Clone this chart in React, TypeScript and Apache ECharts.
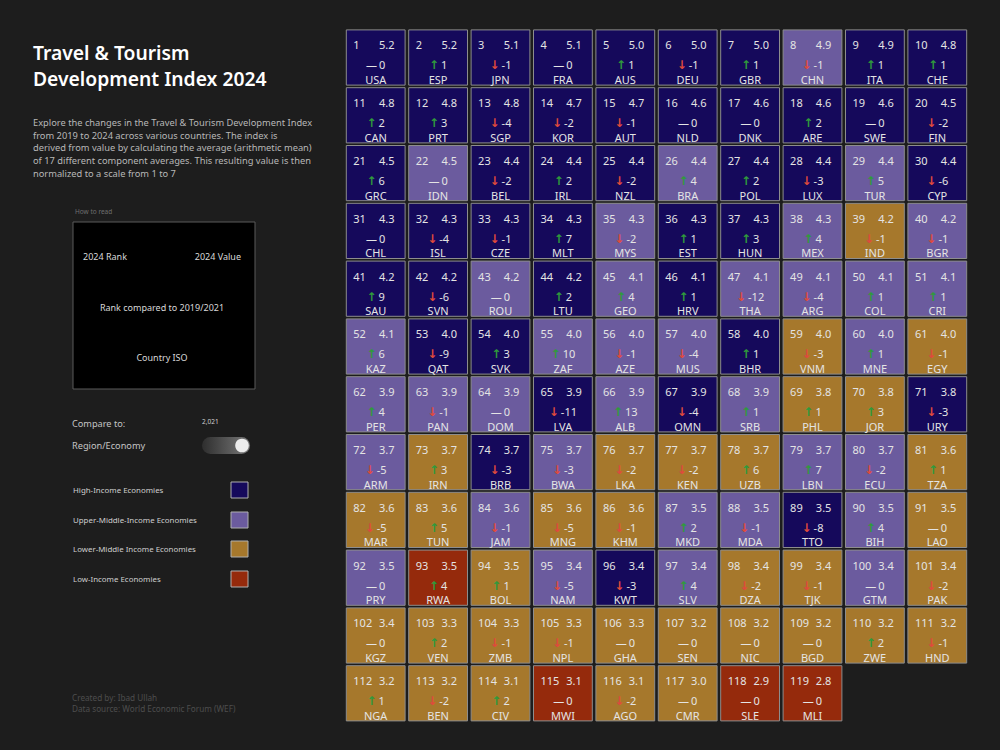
import React, { useEffect, useRef } from "react";
import * as echarts from "echarts";

// 2024 ranking, in grid order (10 tiles per row)
const ranks = [
  1, 2, 3, 4, 5, 6, 7, 8, 9, 10,
  11, 12, 13, 14, 15, 16, 17, 18, 19, 20,
  21, 22, 23, 24, 25, 26, 27, 28, 29, 30,
  31, 32, 33, 34, 35, 36, 37, 38, 39, 40,
  41, 42, 43, 44, 45, 46, 47, 49, 50, 51,
  52, 53, 54, 55, 56, 57, 58, 59, 60, 61,
  62, 63, 64, 65, 66, 67, 68, 69, 70, 71,
  72, 73, 74, 75, 76, 77, 78, 79, 80, 81,
  82, 83, 84, 85, 86, 87, 88, 89, 90, 91,
  92, 93, 94, 95, 96, 97, 98, 99, 100, 101,
  102, 103, 104, 105, 106, 107, 108, 109, 110, 111,
  112, 113, 114, 115, 116, 117, 118, 119,
];

const isoCodes = [
  "USA", "ESP", "JPN", "FRA", "AUS", "DEU", "GBR", "CHN", "ITA", "CHE",
  "CAN", "PRT", "SGP", "KOR", "AUT", "NLD", "DNK", "ARE", "SWE", "FIN",
  "GRC", "IDN", "BEL", "IRL", "NZL", "BRA", "POL", "LUX", "TUR", "CYP",
  "CHL", "ISL", "CZE", "MLT", "MYS", "EST", "HUN", "MEX", "IND", "BGR",
  "SAU", "SVN", "ROU", "LTU", "GEO", "HRV", "THA", "ARG", "COL", "CRI",
  "KAZ", "QAT", "SVK", "ZAF", "AZE", "MUS", "BHR", "VNM", "MNE", "EGY",
  "PER", "PAN", "DOM", "LVA", "ALB", "OMN", "SRB", "PHL", "JOR", "URY",
  "ARM", "IRN", "BRB", "BWA", "LKA", "KEN", "UZB", "LBN", "ECU", "TZA",
  "MAR", "TUN", "JAM", "MNG", "KHM", "MKD", "MDA", "TTO", "BIH", "LAO",
  "PRY", "RWA", "BOL", "NAM", "KWT", "SLV", "DZA", "TJK", "GTM", "PAK",
  "KGZ", "VEN", "ZMB", "NPL", "GHA", "SEN", "NIC", "BGD", "ZWE", "HND",
  "NGA", "BEN", "CIV", "MWI", "AGO", "CMR", "SLE", "MLI",
];

// 2024 index value (scale 1 to 7)
const indexValues = [
  5.2, 5.2, 5.1, 5.1, 5.0, 5.0, 5.0, 4.9, 4.9, 4.8,
  4.8, 4.8, 4.8, 4.7, 4.7, 4.6, 4.6, 4.6, 4.6, 4.5,
  4.5, 4.5, 4.4, 4.4, 4.4, 4.4, 4.4, 4.4, 4.4, 4.4,
  4.3, 4.3, 4.3, 4.3, 4.3, 4.3, 4.3, 4.3, 4.2, 4.2,
  4.2, 4.2, 4.2, 4.2, 4.1, 4.1, 4.1, 4.1, 4.1, 4.1,
  4.1, 4.0, 4.0, 4.0, 4.0, 4.0, 4.0, 4.0, 4.0, 4.0,
  3.9, 3.9, 3.9, 3.9, 3.9, 3.9, 3.9, 3.8, 3.8, 3.8,
  3.7, 3.7, 3.7, 3.7, 3.7, 3.7, 3.7, 3.7, 3.7, 3.6,
  3.6, 3.6, 3.6, 3.6, 3.6, 3.5, 3.5, 3.5, 3.5, 3.5,
  3.5, 3.5, 3.5, 3.4, 3.4, 3.4, 3.4, 3.4, 3.4, 3.4,
  3.4, 3.3, 3.3, 3.3, 3.3, 3.2, 3.2, 3.2, 3.2, 3.2,
  3.2, 3.2, 3.1, 3.1, 3.1, 3.0, 2.9, 2.8,
];

// Rank change compared to 2019/2021
const rankChanges = [
  0, 1, -1, 0, 1, -1, 1, -1, 1, 1,
  2, 3, -4, -2, -1, 0, 0, 2, 0, -2,
  6, 0, -2, 2, -2, 4, 2, -3, 5, -6,
  0, -4, -1, 7, -2, 1, 3, 4, -1, -1,
  9, -6, 0, 2, 4, 1, -12, -4, 1, 1,
  6, -9, 3, 10, -1, -4, 1, -3, 1, -1,
  4, -1, 0, -11, 13, -4, 1, 1, 3, -3,
  -5, 3, -3, -3, -2, -2, 6, 7, -2, 1,
  -5, 5, -1, -5, -1, 2, -1, -8, 4, 0,
  0, 4, 1, -5, -3, 4, -2, -1, 0, -2,
  0, 2, -1, -1, 0, 0, 0, 0, 2, -1,
  1, -2, 2, 0, -2, 0, 0, 0,
];

// Income group: H = high, U = upper-middle, L = lower-middle, W = low
const incomeGroups = [
  "H", "H", "H", "H", "H", "H", "H", "U", "H", "H",
  "H", "H", "H", "H", "H", "H", "H", "H", "H", "H",
  "H", "U", "H", "H", "H", "U", "H", "H", "U", "H",
  "H", "H", "H", "H", "U", "H", "H", "U", "L", "U",
  "H", "H", "U", "H", "U", "H", "U", "U", "U", "U",
  "U", "H", "H", "U", "U", "U", "H", "L", "U", "L",
  "U", "U", "U", "H", "U", "H", "U", "L", "L", "H",
  "U", "L", "H", "U", "L", "L", "L", "U", "U", "L",
  "L", "L", "U", "L", "L", "U", "U", "H", "U", "L",
  "U", "W", "L", "U", "H", "U", "L", "L", "U", "L",
  "L", "L", "L", "L", "L", "L", "L", "L", "L", "L",
  "L", "L", "L", "W", "L", "L", "W", "W",
];

const groupNames = [
  "High-Income Economies",
  "Upper-Middle-Income Economies",
  "Lower-Middle Income Economies",
  "Low-Income Economies",
];
const groupKeys = ["H", "U", "L", "W"];
const groupColors: Record<string, string> = {
  H: "#15095b",
  U: "#6b5b9e",
  L: "#a6782c",
  W: "#952a0c",
};

const COLS = 10;
const ROWS = 12;
const FONT = '"Noto Sans", "DejaVu Sans", sans-serif';

export default function App() {
  const ref = useRef<HTMLDivElement>(null);

  useEffect(() => {
    if (!ref.current) return;
    const chart = echarts.init(ref.current, null, { renderer: "svg" });

    const data = ranks.map((rank, i) => [
      i % COLS,
      Math.floor(i / COLS),
      rank,
      indexValues[i],
      rankChanges[i],
      isoCodes[i],
      incomeGroups[i],
    ]);

    const txt = "#e4e4e4";

    const renderItem = (params: any, api: any) => {
      const c = api.value(0);
      const r = api.value(1);
      const rank = api.value(2);
      const val = api.value(3);
      const chg = api.value(4);
      const iso = api.value(5);
      const grp = api.value(6);
      const center = api.coord([c, r]);
      const size = api.size([1, 1]);
      const w = size[0] - 3.6;
      const h = size[1] - 2.6;
      const x0 = center[0] - w / 2;
      const y0 = center[1] - h / 2;

      let chgText: string;
      if (chg > 0) chgText = `{up|↑}{n|${chg}}`;
      else if (chg < 0) chgText = `{dn|↓}{n|${chg}}`;
      else chgText = `{z|—}{n|0}`;

      return {
        type: "group",
        children: [
          {
            type: "rect",
            shape: { x: x0, y: y0, width: w, height: h },
            style: { fill: groupColors[grp], stroke: "#8d8d8d", lineWidth: 1 },
          },
          {
            type: "text",
            style: {
              x: x0 + 7,
              y: y0 + 15,
              text: String(rank),
              fill: txt,
              font: `11px ${FONT}`,
              align: "left",
              verticalAlign: "middle",
            },
          },
          {
            type: "text",
            style: {
              x: x0 + w - 10.5,
              y: y0 + 15,
              text: Number(val).toFixed(1),
              fill: txt,
              font: `11px ${FONT}`,
              align: "right",
              verticalAlign: "middle",
            },
          },
          {
            type: "text",
            style: {
              x: center[0],
              y: y0 + 35,
              text: chgText,
              align: "center",
              verticalAlign: "middle",
              rich: {
                up: { fill: "#2f9a3c", font: `bold 12px ${FONT}` },
                dn: { fill: "#df4a3c", font: `bold 12px ${FONT}` },
                z: { fill: txt, font: `11px ${FONT}` },
                n: { fill: txt, font: `11px ${FONT}`, padding: [0, 0, 0, 2] },
              },
            },
          },
          {
            type: "text",
            style: {
              x: center[0],
              y: y0 + 49.5,
              text: iso,
              fill: txt,
              font: `11px ${FONT}`,
              align: "center",
              verticalAlign: "middle",
            },
          },
        ],
      };
    };

    const legendItems: any[] = [];
    const legendY = [490, 520, 549, 579];
    groupKeys.forEach((k, i) => {
      legendItems.push({
        type: "text",
        style: {
          x: 73,
          y: legendY[i],
          text: groupNames[i],
          fill: "#cfcfcf",
          font: `7.9px ${FONT}`,
          align: "left",
          verticalAlign: "middle",
        },
      });
      legendItems.push({
        type: "rect",
        shape: { x: 231, y: legendY[i] - 8, width: 17, height: 16 },
        style: { fill: groupColors[k], stroke: "#b0b0b0", lineWidth: 1 },
      });
    });

    const description =
      "Explore the changes in the Travel & Tourism Development Index\n" +
      "from 2019 to 2024 across various countries. The index is\n" +
      "derived from value by calculating the average (arithmetic mean)\n" +
      "of 17 different component averages. This resulting value is then\n" +
      "normalized to a scale from 1 to 7";

    chart.setOption({
      animation: false,
      backgroundColor: "#1d1d1d",
      grid: { left: 344.5, top: 28.6, width: 624, height: 57.8 * ROWS },
      xAxis: {
        type: "category",
        data: Array.from({ length: COLS }, (_, i) => String(i)),
        show: false,
      },
      yAxis: {
        type: "category",
        inverse: true,
        data: Array.from({ length: ROWS }, (_, i) => String(i)),
        show: false,
      },
      series: [
        {
          type: "custom",
          renderItem,
          data,
          encode: { x: 0, y: 1 },
          silent: true,
        },
      ],
      graphic: [
        {
          type: "text",
          style: {
            x: 33,
            y: 39,
            text: "Travel & Tourism\nDevelopment Index 2024",
            fill: "#ffffff",
            font: `600 19.3px ${FONT}`,
            lineHeight: 26,
            align: "left",
            verticalAlign: "top",
          },
        },
        {
          type: "text",
          style: {
            x: 33,
            y: 116,
            text: description,
            fill: "#b8b8b8",
            font: `9.3px ${FONT}`,
            lineHeight: 12.7,
            align: "left",
            verticalAlign: "top",
          },
        },
        {
          type: "text",
          style: {
            x: 75,
            y: 211,
            text: "How to read",
            fill: "#6f6f6f",
            font: `6.5px ${FONT}`,
            align: "left",
            verticalAlign: "middle",
          },
        },
        {
          type: "rect",
          shape: { x: 73, y: 222, width: 182, height: 167 },
          style: { fill: "#000000", stroke: "#5a5a5a", lineWidth: 1 },
        },
        {
          type: "text",
          style: {
            x: 83, y: 256, text: "2024 Rank", fill: "#d8d8d8",
            font: `9px ${FONT}`, align: "left", verticalAlign: "middle",
          },
        },
        {
          type: "text",
          style: {
            x: 241, y: 256, text: "2024 Value", fill: "#d8d8d8",
            font: `9px ${FONT}`, align: "right", verticalAlign: "middle",
          },
        },
        {
          type: "text",
          style: {
            x: 162, y: 307, text: "Rank compared to 2019/2021", fill: "#d8d8d8",
            font: `9px ${FONT}`, align: "center", verticalAlign: "middle",
          },
        },
        {
          type: "text",
          style: {
            x: 162, y: 357, text: "Country ISO", fill: "#d8d8d8",
            font: `9px ${FONT}`, align: "center", verticalAlign: "middle",
          },
        },
        {
          type: "text",
          style: {
            x: 72, y: 423, text: "Compare to:", fill: "#c4c4c4",
            font: `9.2px ${FONT}`, align: "left", verticalAlign: "middle",
          },
        },
        {
          type: "text",
          style: {
            x: 202, y: 421, text: "2,021", fill: "#d0d0d0",
            font: `6.5px ${FONT}`, align: "left", verticalAlign: "middle",
          },
        },
        {
          type: "text",
          style: {
            x: 72, y: 445, text: "Region/Economy", fill: "#c4c4c4",
            font: `9.2px ${FONT}`, align: "left", verticalAlign: "middle",
          },
        },
        {
          type: "rect",
          shape: { x: 202, y: 437, width: 48, height: 17, r: 8.5 },
          style: {
            fill: new echarts.graphic.LinearGradient(0, 0, 1, 0, [
              { offset: 0, color: "#2e2e2e" },
              { offset: 1, color: "#7a7a7a" },
            ]),
          },
        },
        {
          type: "circle",
          shape: { cx: 242, cy: 445.5, r: 6.8 },
          style: { fill: "#ececec" },
        },
        ...legendItems,
        {
          type: "text",
          style: {
            x: 72,
            y: 703,
            text: "Created by: Ibad Ullah\nData source: World Economic Forum (WEF)",
            fill: "#4d4d4d",
            font: `8.2px ${FONT}`,
            lineHeight: 11,
            align: "left",
            verticalAlign: "middle",
          },
        },
      ],
    });

    return () => chart.dispose();
  }, []);

  return (
    <div
      style={{
        position: "fixed",
        left: 0,
        top: 0,
        width: 1000,
        height: 750,
        background: "#1d1d1d",
      }}
    >
      <div ref={ref} style={{ width: 1000, height: 750 }} />
    </div>
  );
}
